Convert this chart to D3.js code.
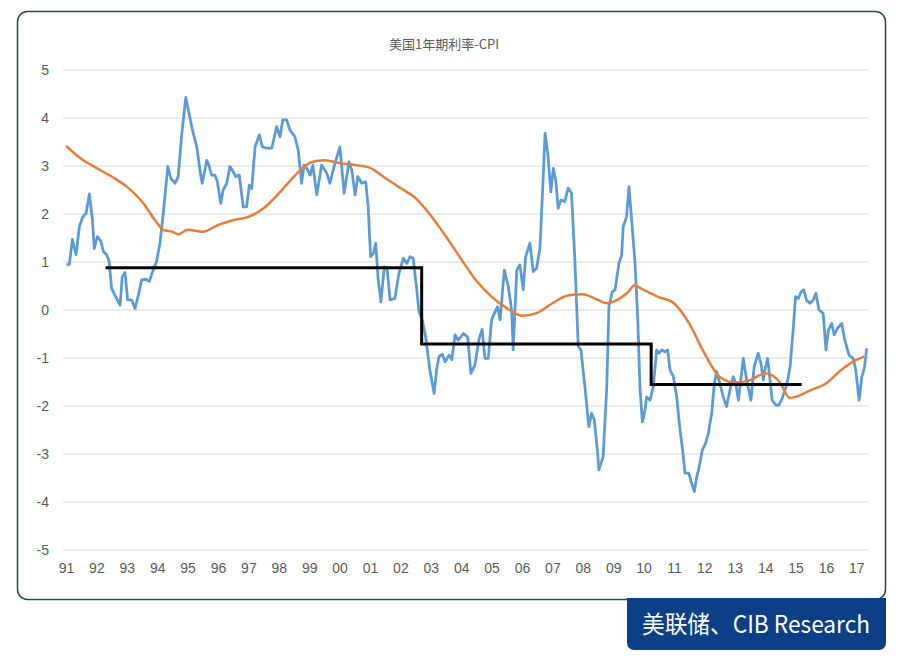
<!DOCTYPE html>
<html>
<head>
<meta charset="utf-8">
<script src="https://cdn.jsdelivr.net/npm/d3@7"></script>
<style>
  body { margin: 0; background: #fff; }
  svg { display: block; }
</style>
</head>
<body>
<script>
// year ticks shown on the x axis
const tickYears = d3.range(1991, 2018);

// 1y rate minus CPI (blue)
const blueYears = [1991.02,1991.11,1991.21,1991.33,1991.44,1991.55,1991.66,1991.77,1991.87,1991.93,
  1992.03,1992.14,1992.23,1992.34,1992.42,1992.50,1992.61,1992.78,1992.85,1992.94,
  1993.03,1993.16,1993.27,1993.38,1993.49,1993.63,1993.74,1993.85,1993.98,
  1994.09,1994.20,1994.35,1994.45,1994.59,1994.69,1994.81,1994.94,
  1995.15,1995.30,1995.43,1995.48,1995.63,1995.70,1995.79,1995.90,1995.98,
  1996.09,1996.17,1996.29,1996.39,1996.50,1996.58,1996.70,1996.83,1996.94,
  1997.03,1997.11,1997.22,1997.36,1997.46,1997.60,1997.77,1997.93,
  1998.04,1998.13,1998.26,1998.37,1998.53,1998.64,1998.75,1998.83,1998.92,
  1999.03,1999.12,1999.25,1999.41,1999.58,1999.68,1999.85,
  2000.01,2000.15,2000.31,2000.40,2000.51,2000.60,2000.73,2000.86,2000.94,
  2001.02,2001.11,2001.19,2001.27,2001.36,2001.47,2001.57,2001.66,2001.82,2001.95,
  2002.10,2002.21,2002.32,2002.42,2002.54,2002.61,2002.72,2002.83,2002.97,
  2003.11,2003.19,2003.27,2003.38,2003.47,2003.60,2003.69,2003.80,2003.90,
  2004.07,2004.21,2004.32,2004.45,2004.59,2004.69,2004.78,2004.89,
  2005.00,2005.09,2005.20,2005.28,2005.42,2005.55,2005.66,2005.71,2005.83,2005.93,
  2006.04,2006.12,2006.26,2006.37,2006.48,2006.59,2006.70,2006.76,2006.85,2006.95,
  2007.03,2007.11,2007.19,2007.28,2007.41,2007.52,2007.63,2007.74,2007.85,2007.94,
  2008.07,2008.20,2008.29,2008.38,2008.49,2008.53,2008.67,2008.79,2008.86,2008.97,
  2009.06,2009.19,2009.28,2009.33,2009.44,2009.52,2009.63,2009.72,2009.81,2009.88,2009.96,
  2010.05,2010.10,2010.21,2010.32,2010.43,2010.51,2010.60,2010.70,2010.79,2010.87,2010.98,
  2011.09,2011.20,2011.31,2011.36,2011.49,2011.58,2011.67,2011.75,2011.82,2011.93,
  2012.04,2012.13,2012.24,2012.33,2012.40,2012.51,2012.62,2012.73,2012.84,2012.95,
  2013.03,2013.12,2013.28,2013.39,2013.53,2013.64,2013.77,2013.86,2013.94,2013.99,
  2014.08,2014.16,2014.23,2014.35,2014.45,2014.56,2014.71,2014.82,2014.92,
  2015.00,2015.09,2015.18,2015.27,2015.36,2015.47,2015.58,2015.67,2015.77,2015.91,
  2016.00,2016.08,2016.19,2016.27,2016.38,2016.52,2016.62,2016.76,2016.90,2016.98,
  2017.09,2017.18,2017.26,2017.34];
const blueValues = [0.94,0.95,1.47,1.15,1.74,1.94,2.01,2.42,1.87,1.28,
  1.53,1.44,1.22,1.15,1.01,0.45,0.31,0.10,0.69,0.78,
  0.21,0.21,0.03,0.31,0.63,0.64,0.60,0.80,1.01,
  1.39,2.01,2.99,2.74,2.64,2.78,3.68,4.43,
  3.78,3.40,2.81,2.64,3.12,3.02,2.81,2.81,2.67,
  2.22,2.50,2.64,2.99,2.88,2.78,2.81,2.15,2.15,
  2.60,2.53,3.40,3.65,3.40,3.37,3.37,3.82,
  3.61,3.96,3.96,3.75,3.61,3.33,2.64,3.02,2.95,
  2.81,3.02,2.40,3.02,2.85,2.64,3.06,
  3.40,2.43,3.09,2.92,2.40,2.78,2.64,2.67,2.15,
  1.11,1.18,1.39,0.63,0.17,0.90,0.83,0.21,0.24,0.76,
  1.08,0.97,1.11,1.08,0.42,-0.03,-0.21,-0.56,-1.25,
  -1.74,-1.25,-0.97,-0.92,-1.08,-0.94,-1.04,-0.52,-0.63,
  -0.49,-0.56,-1.32,-1.15,-0.60,-0.40,-1.01,-1.01,
  -0.21,-0.07,0.07,-0.21,0.83,0.49,0.00,-0.83,0.83,0.94,
  0.42,1.11,1.39,0.80,0.87,1.28,2.78,3.68,3.26,2.46,
  2.95,2.71,2.12,2.29,2.26,2.54,2.43,1.04,-0.76,-0.83,
  -1.60,-2.43,-2.15,-2.29,-2.99,-3.33,-3.06,-1.60,0.07,0.38,
  0.42,0.97,1.15,1.74,1.94,2.57,1.70,0.97,-0.21,-1.60,-2.33,
  -2.08,-1.81,-1.88,-1.60,-0.83,-0.90,-0.83,-0.87,-0.83,-1.25,-1.39,
  -1.81,-2.50,-3.06,-3.40,-3.40,-3.61,-3.78,-3.47,-3.30,-2.92,
  -2.78,-2.57,-2.15,-1.53,-1.28,-1.53,-1.81,-2.01,-1.67,-1.39,
  -1.53,-1.88,-1.01,-1.46,-1.88,-1.18,-0.90,-1.11,-1.46,-1.25,
  -1.01,-1.46,-1.88,-1.98,-1.98,-1.84,-1.56,-1.18,-0.42,
  0.28,0.24,0.38,0.42,0.21,0.14,0.21,0.35,0.00,-0.07,
  -0.83,-0.42,-0.28,-0.52,-0.38,-0.28,-0.63,-0.94,-1.01,-1.25,
  -1.88,-1.39,-1.22,-0.80];

// smoothed trend (orange)
const orangeYears = [1991.0,1991.5,1992.0,1992.5,1993.0,1993.5,1994.0,1994.2,1994.5,1994.7,
  1995.0,1995.5,1996.0,1996.5,1997.0,1997.5,1998.0,1998.5,1999.0,1999.3,1999.5,
  2000.0,2000.5,2001.0,2001.5,2002.0,2002.5,2003.0,2003.5,2004.0,2004.5,
  2005.0,2005.5,2006.0,2006.5,2007.0,2007.5,2008.0,2008.5,2008.8,2009.0,2009.5,2009.7,
  2010.0,2010.5,2011.0,2011.5,2012.0,2012.5,2013.0,2013.5,2014.0,2014.5,2014.8,
  2015.0,2015.5,2016.0,2016.5,2017.0,2017.25];
const orangeValues = [3.42,3.15,2.96,2.78,2.57,2.26,1.81,1.67,1.63,1.58,
  1.67,1.63,1.77,1.87,1.94,2.12,2.43,2.78,3.06,3.11,3.12,
  3.06,3.02,2.96,2.75,2.54,2.33,1.97,1.53,1.06,0.61,
  0.28,0.04,-0.12,-0.06,0.14,0.30,0.33,0.21,0.14,0.17,0.38,0.51,
  0.42,0.27,0.14,-0.28,-0.90,-1.39,-1.51,-1.46,-1.32,-1.52,-1.83,
  -1.81,-1.67,-1.53,-1.25,-1.04,-0.97];

// step line (black)
const stepYears = [1992.3, 2002.7, 2010.25, 2015.2];
const stepValues = [0.88, -0.71, -1.55, -1.55];

const width = 905, height = 660;
const svg = d3.select("body").append("svg")
  .attr("width", width)
  .attr("height", height);

// outer frame
svg.append("rect")
  .attr("x", 17.5).attr("y", 11.5)
  .attr("width", 868).attr("height", 588)
  .attr("rx", 10)
  .attr("fill", "#fff")
  .attr("stroke", "#1f4f49")
  .attr("stroke-width", 1.5);

const x = d3.scaleLinear().domain([1991, 2017.35]).range([66, 867]);
const y = d3.scaleLinear().domain([-5, 5]).range([550, 70]);

// gridlines
svg.append("g")
  .selectAll("line")
  .data(d3.range(-5, 6))
  .enter().append("line")
  .attr("x1", 63).attr("x2", 869)
  .attr("y1", d => y(d)).attr("y2", d => y(d))
  .attr("stroke", "#d9d9d9")
  .attr("stroke-width", 1);

const labelFont = "'Liberation Sans Narrow', 'Liberation Sans', sans-serif";

// y axis labels (plain hyphen for negatives)
const yAxis = svg.append("g")
  .attr("transform", "translate(49,0)")
  .call(d3.axisLeft(y).tickValues(d3.range(-5, 6)).tickSize(0).tickPadding(0)
    .tickFormat(d => String(d)));
yAxis.select(".domain").remove();
yAxis.selectAll("text")
  .attr("fill", "#595959")
  .style("font-family", labelFont)
  .style("font-size", "14px");

// x axis labels
const xAxis = svg.append("g")
  .attr("transform", "translate(0,563)")
  .call(d3.axisBottom(x).tickValues(tickYears).tickSize(0).tickPadding(0)
    .tickFormat(d => String(d % 100).padStart(2, "0")));
xAxis.select(".domain").remove();
xAxis.selectAll("text")
  .attr("fill", "#595959")
  .style("font-family", labelFont)
  .style("font-size", "14px");

// title
svg.append("text")
  .attr("x", 444).attr("y", 49)
  .attr("text-anchor", "middle")
  .attr("fill", "#595959")
  .style("font-family", "'Noto Sans CJK SC', sans-serif")
  .style("font-size", "13px")
  .text("美国1年期利率-CPI");

const line = d3.line()
  .x(d => x(d[0]))
  .y(d => y(d[1]));

svg.append("path")
  .datum(d3.zip(blueYears, blueValues))
  .attr("fill", "none")
  .attr("stroke", "#5b9bd5")
  .attr("stroke-width", 2.75)
  .attr("stroke-linejoin", "round")
  .attr("d", line);

svg.append("path")
  .datum(d3.zip(orangeYears, orangeValues))
  .attr("fill", "none")
  .attr("stroke", "#e67e3a")
  .attr("stroke-width", 2.5)
  .attr("d", line.curve(d3.curveMonotoneX));

svg.append("path")
  .datum(d3.zip(stepYears, stepValues))
  .attr("fill", "none")
  .attr("stroke", "#000")
  .attr("stroke-width", 3)
  .attr("d", d3.line().x(d => x(d[0])).y(d => y(d[1])).curve(d3.curveStepAfter));

// source tag
const tag = svg.append("g");
tag.append("rect")
  .attr("x", 627).attr("y", 598)
  .attr("width", 259).attr("height", 52)
  .attr("rx", 7)
  .attr("fill", "#0b4087");
tag.append("rect")
  .attr("x", 627).attr("y", 598)
  .attr("width", 259).attr("height", 12)
  .attr("fill", "#0b4087");
tag.append("text")
  .attr("x", 642).attr("y", 633)
  .attr("fill", "#fff")
  .attr("textLength", 228)
  .attr("lengthAdjust", "spacingAndGlyphs")
  .style("font-family", "'Noto Sans CJK SC', sans-serif")
  .style("font-size", "24px")
  .text("美联储、CIB Research");
</script>
</body>
</html>
